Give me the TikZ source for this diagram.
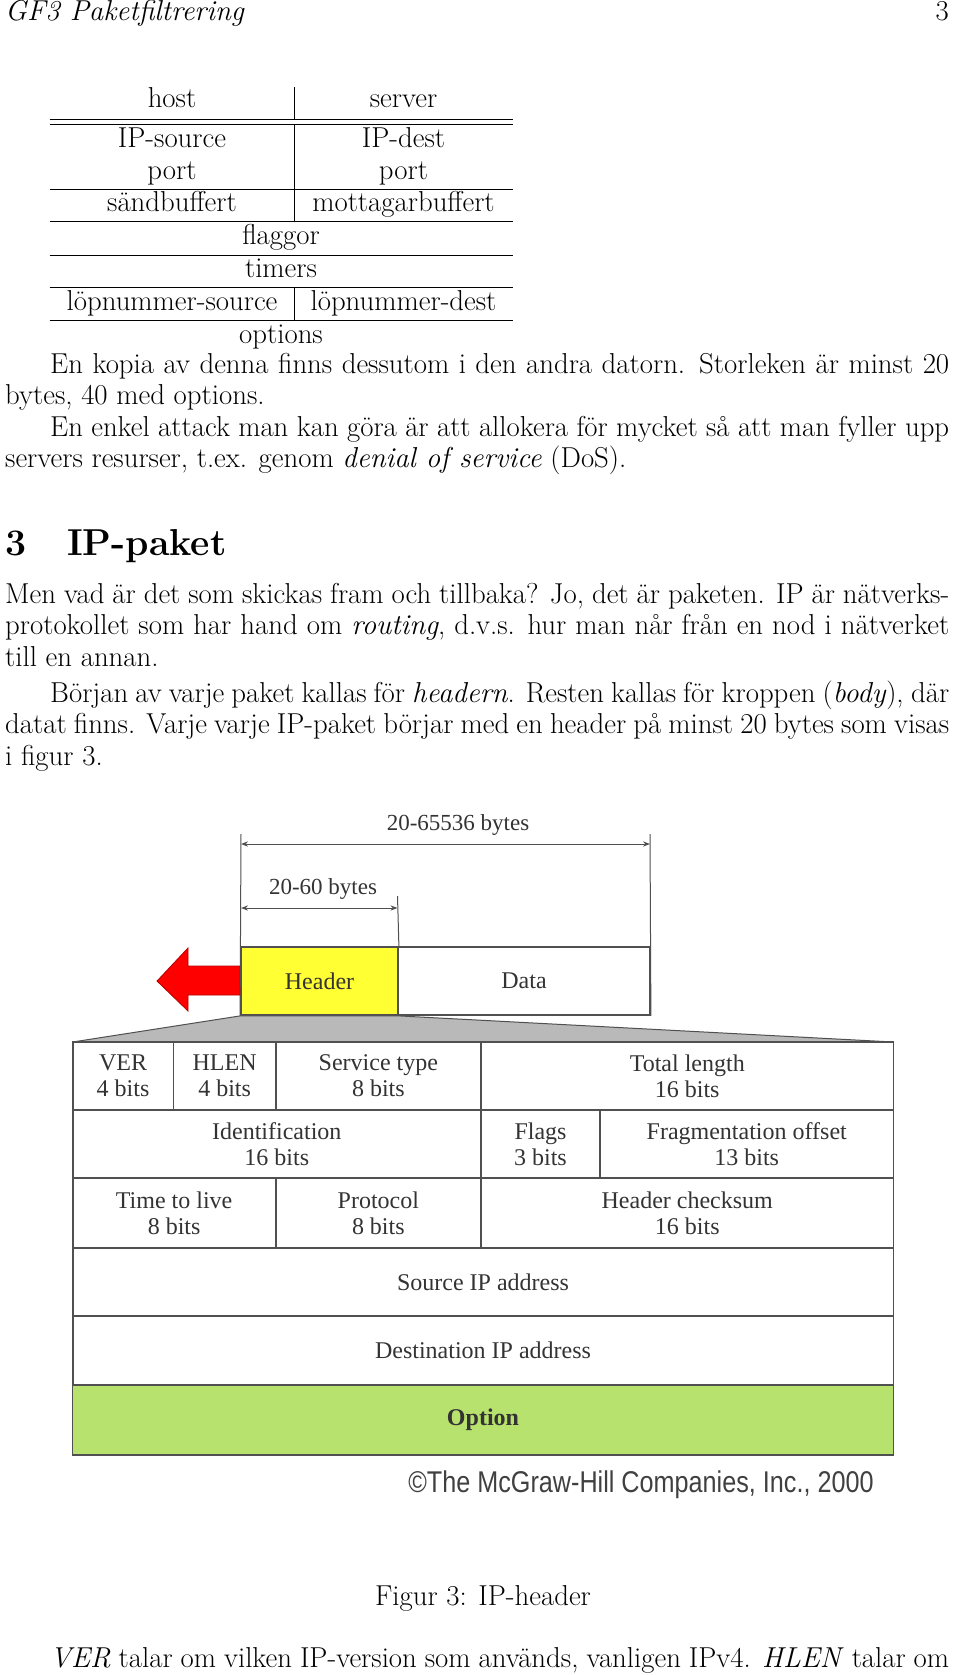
\documentclass[tikz,border=0pt]{standalone}
\usepackage{fontspec}
\newfontfamily\figfont{Liberation Serif}
\newfontfamily\copyfont{Liberation Sans}
\usepackage{tikz}
\usetikzlibrary{arrows.meta}
\definecolor{hdryellow}{RGB}{255,255,51}
\definecolor{optgreen}{RGB}{184,226,110}
\definecolor{edgegray}{RGB}{80,80,80}
\newcommand\bodyfont{\fontsize{28.8}{31.5}\selectfont}
\tikzset{
  bodytext/.style = {anchor=base west, inner sep=0pt, font=\bodyfont},
  para/.style = {bodytext, text width=944pt, align=justify},
  tabtext/.style = {anchor=base, inner sep=0pt, font=\bodyfont},
  cellbox/.style = {draw=edgegray, line width=1.8pt, inner sep=0pt, align=center,
                    font=\figfont\fontsize{24}{26}\selectfont, text=black!80},
  dimline/.style = {draw=edgegray, line width=1pt, {Stealth[length=7pt]}-{Stealth[length=7pt]}},
  extline/.style = {draw=edgegray, line width=1pt},
  dimlabel/.style = {inner sep=0pt, font=\figfont\fontsize{23}{25}\selectfont, text=black!80}
}
\newcommand\cell[6]{\node[cellbox, minimum width={(#4-#2)*1pt}, minimum height={(#5-#3)*1pt}]
  (#1) at ({(#2+#4)/2},{(#3+#5)/2}) {#6};}
\begin{document}
\begin{tikzpicture}[x=1pt, y=-1pt]
        \useasboundingbox (0,0) rectangle (960,1675);

        % running head
        \node[bodytext, font=\bodyfont\itshape] (head) at (5,21) {GF3 Paketfiltrering};
        \node[anchor=base east, inner sep=0pt, font=\bodyfont] (pageno) at (949,21) {3};

        % table
        \draw[line width=0.9pt] (49.5,119) -- (513,119) (49.5,124) -- (513,124)
            (49.5,189) -- (513,189) (49.5,221.7) -- (513,221.7)
            (49.5,255) -- (513,255) (49.5,287) -- (513,287) (49.5,320.7) -- (513,320.7);
        \draw[line width=0.9pt] (294,87) -- (294,119) (294,124) -- (294,221.7) (294,287) -- (294,320.7);
        \node[tabtext] (host) at (172,108) {host};
        \node[tabtext] (server) at (403.5,108) {server};
        \node[tabtext] (ipsrc) at (172,147) {IP-source};
        \node[tabtext] (ipdst) at (403.5,147) {IP-dest};
        \node[tabtext] (portsrc) at (172,179) {port};
        \node[tabtext] (portdst) at (403.5,179) {port};
        \node[tabtext] (sbuf) at (172,211) {sändbuffert};
        \node[tabtext] (mbuf) at (403.5,211) {mottagarbuffert};
        \node[tabtext] (flaggor) at (281,244) {flaggor};
        \node[tabtext] (timers) at (281,277) {timers};
        \node[tabtext] (lopsrc) at (172,310) {löpnummer-source};
        \node[tabtext] (lopdst) at (403.5,310) {löpnummer-dest};
        \node[tabtext] (options) at (281,343) {options};

        % text
        \node[para] (p1) at (5,373) {\hspace*{45pt}En kopia av denna finns dessutom i den andra datorn. Storleken är minst 20\linebreak bytes, 40 med options.};
        \node[para] (p2) at (5,436) {\hspace*{45pt}En enkel attack man kan göra är att allokera för mycket så att man fyller upp\linebreak servers resurser, t.ex. genom \emph{denial of service} (DoS).};
        \node[bodytext, font=\fontsize{37.5}{45}\selectfont\bfseries] (secno) at (5,555) {3};
        \node[bodytext, font=\fontsize{37.5}{45}\selectfont\bfseries] (sec) at (67,555) {IP-paket};
        \node[para] (p3) at (5,603) {Men vad är det som skickas fram och tillbaka? Jo, det är paketen. IP är nätverks-\linebreak protokollet som har hand om \emph{routing}, d.v.s. hur man når från en nod i nätverket\linebreak till en annan.};
        \node[para] (p4) at (5,702) {\hspace*{45pt}Början av varje paket kallas för \emph{headern}. Resten kallas för kroppen (\emph{body}), där\linebreak datat finns. Varje varje IP-paket börjar med en header på minst 20 bytes som visas\linebreak i figur 3.};

        % figure: packet
        \node[cellbox, fill=hdryellow, minimum width=157pt, minimum height=68pt] (hdr) at (319.5,981) {Header};
        \node[cellbox, minimum width=252pt, minimum height=68pt] (data) at (524,981) {Data};
        \fill[red, draw=red!70!black, line width=0.8pt] (157,981) -- (188,948) -- (188,966) -- (hdr.west |- 0,966)
            -- (hdr.west |- 0,995) -- (188,995) -- (188,1011) -- cycle;
        \draw[extline] (hdr.south west) -- (241,834);
        \draw[extline] (data.south east) -- (650,834);
        \draw[extline] (hdr.north east) -- (397.5,896);
        \draw[dimline] (241,844) -- (650,844);
        \draw[dimline] (241,908) -- (397.5,908);
        \node[dimlabel] (total) at (458,825) {20-65536 bytes};
        \node[dimlabel] (hlen) at (323,889) {20-60 bytes};

        % wedge
        \fill[gray!55, draw=edgegray, line width=1pt] (hdr.south west) -- (hdr.south east) -- (893.5,1042) -- (72.6,1042) -- cycle;

        % header fields
        \cell{ver}{72.6}{1042}{173.5}{1110}{VER\\4 bits}
        \cell{hl}{173.5}{1042}{275.7}{1110}{HLEN\\4 bits}
        \cell{stype}{275.7}{1042}{481}{1110}{Service type\\8 bits}
        \cell{tlen}{481}{1042}{893.5}{1110}{Total length\\16 bits}
        \cell{ident}{72.6}{1110}{481}{1178}{Identification\\16 bits}
        \cell{flags}{481}{1110}{600}{1178}{Flags\\3 bits}
        \cell{frag}{600}{1110}{893.5}{1178}{Fragmentation offset\\13 bits}
        \cell{ttl}{72.6}{1178}{275.7}{1248}{Time to live\\8 bits}
        \cell{proto}{275.7}{1178}{481}{1248}{Protocol\\8 bits}
        \cell{chk}{481}{1178}{893.5}{1248}{Header checksum\\16 bits}
        \cell{src}{72.6}{1248}{893.5}{1316}{Source IP address}
        \cell{dst}{72.6}{1316}{893.5}{1385}{Destination IP address}
        \node[cellbox, fill=optgreen, minimum width=820.9pt, minimum height=70pt, font=\figfont\fontsize{24}{26}\selectfont\bfseries]
            (opt) at (483,1420) {Option};
        \node[anchor=base, inner sep=0pt, font=\copyfont\fontsize{30}{32}\selectfont, text=black!75] (copy) at (641,1492)
            {\scalebox{0.84}[1]{\textcopyright The McGraw-Hill Companies, Inc., 2000}};

        % caption and following text
        \node[tabtext] (caption) at (483,1605) {Figur 3: IP-header};
        \node[para] (p5) at (5,1667) {\hspace*{45pt}\emph{VER} talar om vilken IP-version som används, vanligen IPv4. \emph{HLEN} talar om};
    \end{tikzpicture}
\end{document}
